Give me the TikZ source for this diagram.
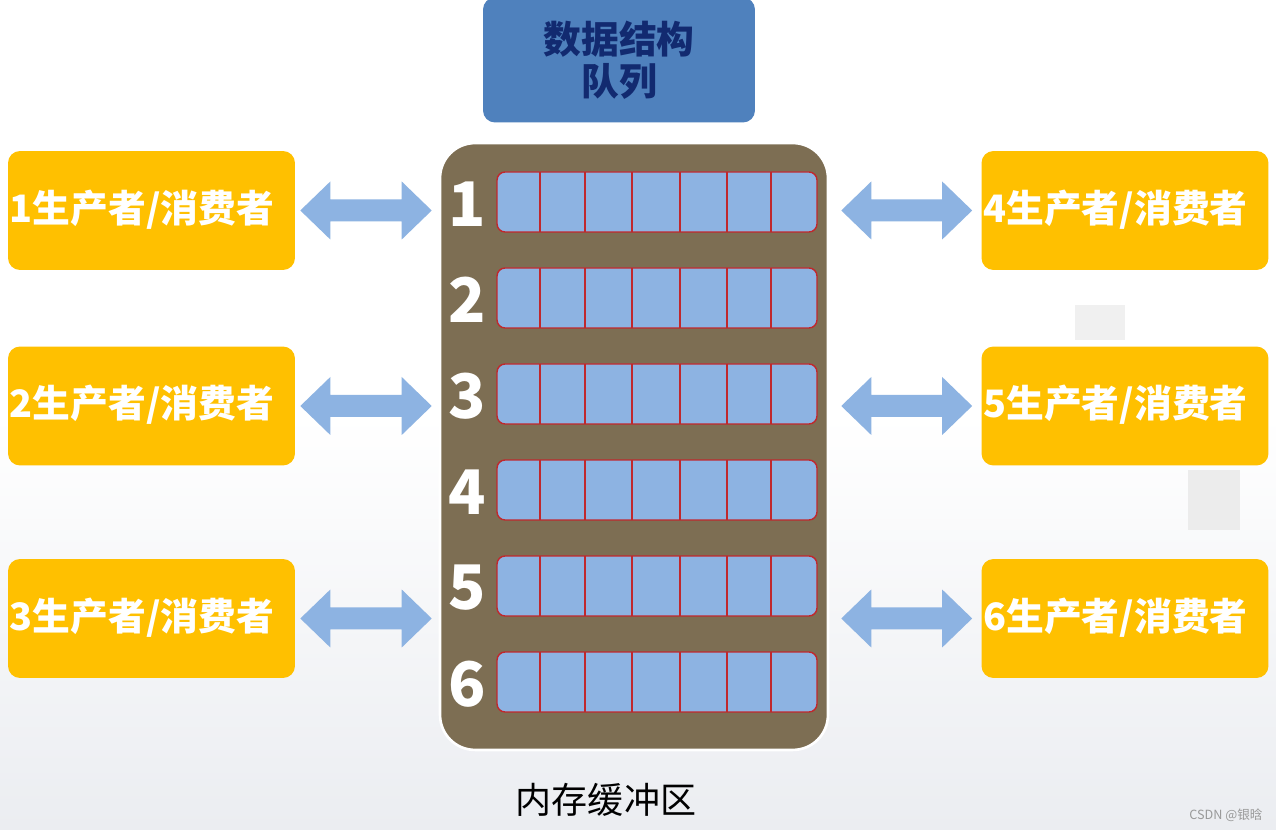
\documentclass[tikz,border=0pt]{standalone}
\usepackage{fontspec}
\newfontfamily\cjk{Noto Sans CJK SC}
\usetikzlibrary{calc}
\definecolor{ybox}{HTML}{FFC000}
\definecolor{tblue}{HTML}{4F81BD}
\definecolor{tnavy}{HTML}{122A70}
\definecolor{brownbuf}{HTML}{7D6E53}
\definecolor{cellblue}{HTML}{8DB3E2}
\definecolor{cellred}{HTML}{C0282D}
\definecolor{bgbot}{HTML}{EBEDF1}
\tikzset{
  pcbox/.style={fill=ybox, rounded corners=0.24cm, minimum width=5.74cm, minimum height=2.38cm, inner sep=0pt},
  pctext/.style={text=white, font=\cjk\bfseries\fontsize{21.5}{24}\selectfont, inner sep=0pt},
  rowbox/.style={fill=cellblue, draw=cellred, line width=0.8pt, rounded corners=0.16cm, minimum width=6.4cm, minimum height=1.2cm, inner sep=0pt},
  divline/.style={draw=cellred, line width=0.8pt},
  numtext/.style={text=white, font=\cjk\bfseries\fontsize{35}{38}\selectfont, inner sep=0pt},
  arrowfill/.style={fill=cellblue},
}
\newcommand\dblarrow[2]{%
  \fill[arrowfill] let \p1=(#1), \p2=(#2) in
   (\x1,\y1) -- (\x1+0.6cm,\y1+0.58cm) -- (\x1+0.6cm,\y1+0.22cm) -- (\x2-0.6cm,\y1+0.22cm)
   -- (\x2-0.6cm,\y1+0.58cm) -- (\x2,\y1) -- (\x2-0.6cm,\y1-0.58cm) -- (\x2-0.6cm,\y1-0.22cm)
   -- (\x1+0.6cm,\y1-0.22cm) -- (\x1+0.6cm,\y1-0.58cm) -- cycle;}
\begin{document}
\begin{tikzpicture}[x=0.02cm,y=-0.02cm]
\useasboundingbox (0,0) rectangle (1276,830);
% background
\shade[top color=white, bottom color=bgbot, middle color=white] (0,0) rectangle (1276,830);
\fill[gray!12] (1075,305) rectangle (1125,340);
\fill[gray!15] (1188,470) rectangle (1240,530);
% title
\node[fill=tblue, rounded corners=0.24cm, minimum width=5.44cm, minimum height=2.5cm, inner sep=0pt,
      text=tnavy, align=center, font=\cjk\bfseries\fontsize{21.5}{21}\selectfont] (title) at (619,60) {数据结构\\[0.1cm]队列};
% buffer
\node[fill=brownbuf, draw=white, line width=1.5pt, rounded corners=0.7cm, minimum width=7.76cm, minimum height=12.14cm, inner sep=0pt] (buf) at (634,446.5) {};
\node[font=\cjk\fontsize{20.5}{22}\selectfont, text=black, inner sep=0pt] (buflabel) at (606,800) {内存缓冲区};
% rows
\foreach \i/\y in {1/202,2/298,3/394,4/490,5/586,6/682}{
  \node[rowbox] (row\i) at (657,\y) {};
  \foreach \xx in {540,585,632,680,727,771}{
    \draw[divline] (\xx,\y-30) -- (\xx,\y+30);
  }
  \node[numtext] (num\i) at (467,\y+2) {\i};
}
% producer/consumer boxes
\node[pcbox] (p1) at (151.5,210.5) {};
\node[pcbox] (p2) at (151.5,406) {};
\node[pcbox] (p3) at (151.5,618.5) {};
\node[pcbox] (p4) at (1125,210.5) {};
\node[pcbox] (p5) at (1125,406) {};
\node[pcbox] (p6) at (1125,618.5) {};
\foreach \i in {1,...,6}{
  \node[pctext] (t\i) at ([xshift=-0.19cm,yshift=0.02cm]p\i.center) {\i 生产者/消费者};
}
% arrows
\dblarrow{$(p1.east)+(0.1cm,0)$}{$(p1.east -| buf.west)+(-0.14cm,0)$}
\dblarrow{$(p2.east)+(0.1cm,0)$}{$(p2.east -| buf.west)+(-0.14cm,0)$}
\dblarrow{$(p3.east)+(0.1cm,0)$}{$(p3.east -| buf.west)+(-0.14cm,0)$}
\dblarrow{$(p4.west -| buf.east)+(0.24cm,0)$}{$(p4.west)+(-0.18cm,0)$}
\dblarrow{$(p5.west -| buf.east)+(0.24cm,0)$}{$(p5.west)+(-0.18cm,0)$}
\dblarrow{$(p6.west -| buf.east)+(0.24cm,0)$}{$(p6.west)+(-0.18cm,0)$}
% watermark
\node[font=\cjk\fontsize{7.2}{8}\selectfont, text=gray!80, inner sep=0pt] (wm) at (1226,815) {CSDN @银晗};
\end{tikzpicture}
\end{document}
